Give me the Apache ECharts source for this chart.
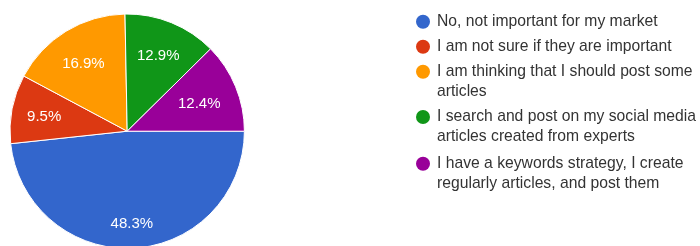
<!DOCTYPE html>
<html><head><meta charset="utf-8">
<script src="https://cdn.jsdelivr.net/npm/echarts@6/dist/echarts.min.js"></script>
<style>html,body{margin:0;padding:0;background:#fff}#c{width:700px;height:246px}</style>
</head><body><div id="c"></div>
<script>
// ---- data ----
const categories = [
  'No, not important for my market',
  'I am not sure if they are important',
  'I am thinking that I should post some articles',
  'I search and post on my social media articles created from experts',
  'I have a keywords strategy, I create regularly articles, and post them'
];
const legendText = [
  'No, not important for my market',
  'I am not sure if they are important',
  'I am thinking that I should post some\narticles',
  'I search and post on my social media\narticles created from experts',
  'I have a keywords strategy, I create\nregularly articles, and post them'
];
const values = [48.3, 9.5, 16.9, 12.9, 12.4];
const colors = ['#3366cc', '#dc3912', '#ff9900', '#109618', '#990099'];

// ---- layout / style ----
const FONT = '"Liberation Sans", Arial, sans-serif';
const CENTER = [127.2, 131.2];
const R = 117.2;
const legendIconCenters = [21.7, 46.8, 71.7, 117, 163.7];
const labelPad = [[10, 0, 0, 0], [4, 0, 0, 6], [14, 0, 0, 4], [12, 4, 0, 0], [11, 18, 0, 0]];

const chart = echarts.init(document.getElementById('c'), null, {renderer: 'canvas'});

const legends = categories.map((name, i) => {
  const twoLine = legendText[i].indexOf('\n') >= 0;
  return {
    orient: 'vertical',
    left: 416,
    top: legendIconCenters[i] - (twoLine ? 30 : 10),
    padding: 0,
    itemGap: 0,
    itemWidth: 14,
    itemHeight: 14,
    icon: 'circle',
    selectedMode: false,
    itemStyle: {borderWidth: 0},
    data: [{name: name, itemStyle: {color: colors[i], borderWidth: 0}}],
    formatter: () => (twoLine ? '\n' : '') + legendText[i],
    textStyle: {
      fontFamily: FONT,
      fontSize: 15.7,
      color: '#333',
      lineHeight: 20,
      padding: [0, 0, 0, 2]
    }
  };
});

chart.setOption({
  animation: false,
  backgroundColor: '#fff',
  legend: legends,
  series: [
    {
      type: 'pie',
      center: CENTER,
      radius: R,
      startAngle: 0,
      clockwise: true,
      avoidLabelOverlap: false,
      label: {show: false},
      labelLine: {show: false},
      emphasis: {disabled: true},
      itemStyle: {borderColor: '#fff', borderWidth: 1},
      data: categories.map((n, i) => ({name: n, value: values[i], itemStyle: {color: colors[i]}}))
    },
    {
      type: 'pie',
      center: CENTER,
      radius: [52, R],
      startAngle: 0,
      clockwise: true,
      silent: true,
      avoidLabelOverlap: false,
      emphasis: {disabled: true},
      itemStyle: {color: 'rgba(0,0,0,0)', borderWidth: 0},
      labelLine: {show: false},
      label: {
        show: true,
        position: 'inside',
        formatter: p => '{v|' + p.value.toFixed(1) + '%}'
      },
      data: categories.map((n, i) => ({
        name: n, value: values[i],
        label: {rich: {v: {fontFamily: FONT, fontSize: 15, color: '#fff', padding: labelPad[i]}}}
      }))
    }
  ]
});
</script>
</body></html>
